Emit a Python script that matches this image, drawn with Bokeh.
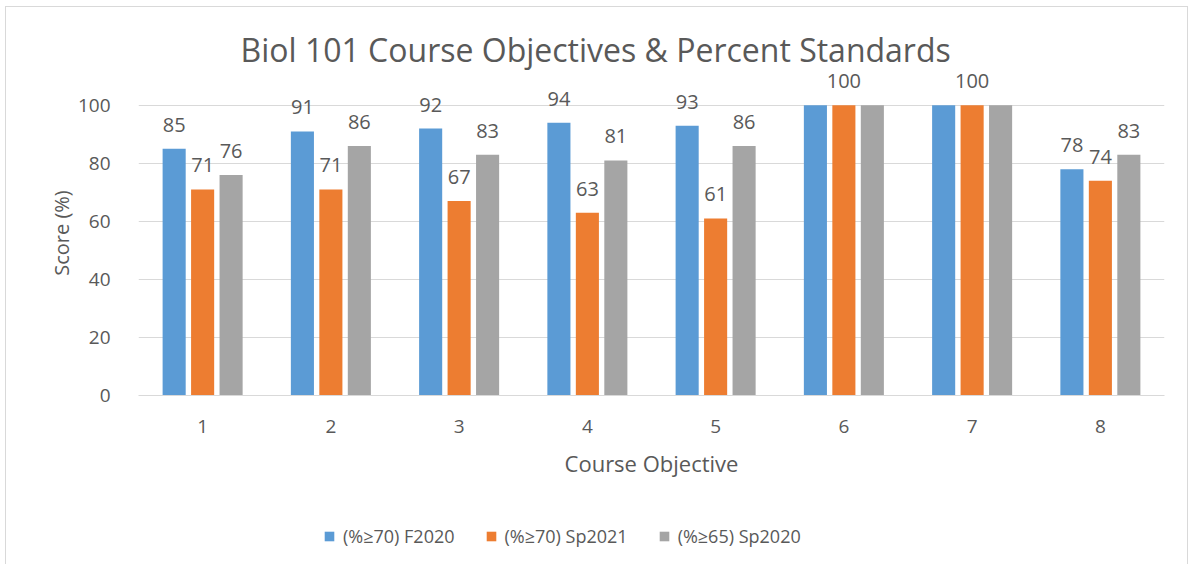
from bokeh.plotting import figure
from bokeh.layouts import column
from bokeh.models import ColumnDataSource, Range1d, FixedTicker, Legend, LegendItem
from bokeh.transform import dodge
from bokeh.embed import file_html
from bokeh.resources import INLINE

objectives = [1, 2, 3, 4, 5, 6, 7, 8]
f2020 = [85, 91, 92, 94, 93, 100, 100, 78]
sp2021 = [71, 71, 67, 63, 61, 100, 100, 74]
sp2020 = [76, 86, 83, 81, 86, 100, 100, 83]
series_names = ["(%≥70) F2020", "(%≥70) Sp2021", "(%≥65) Sp2020"]
colors = ["#5B9BD5", "#ED7D31", "#A5A5A5"]

FONT = "Open Sans"
TXT = "#595959"

p = figure(frame_width=1026, frame_height=325, output_backend="svg", toolbar_location=None,
           x_range=Range1d(0.5, 8.5), y_range=Range1d(0, 112),
           min_border_left=132, min_border_right=23, min_border_top=63, min_border_bottom=109)
p.outline_line_color = None

p.title.text = "Biol 101 Course Objectives & Percent Standards"
p.title.align = "left"
p.title.offset = 102
p.title.text_font = FONT
p.title.text_font_size = "32px"
p.title.text_font_style = "normal"
p.title.text_color = TXT
p.title.standoff = 0

src = ColumnDataSource(dict(
    x=objectives, f2020=f2020, sp2021=sp2021, sp2020=sp2020,
    l_f2020=["" if v == 100 else str(v) for v in f2020],
    l_sp2021=[str(v) for v in sp2021],
    l_sp2020=["" if v == 100 else str(v) for v in sp2020],
))

offsets = [-0.222, 0.0, 0.222]
keys = ["f2020", "sp2021", "sp2020"]
for k, off, c in zip(keys, offsets, colors):
    p.vbar(x=dodge("x", off), top=k, width=0.18, source=src, color=c, line_color=None)
    p.text(x=dodge("x", off), y=k, text="l_" + k, source=src, text_align="center",
           text_baseline="bottom", y_offset=-17, text_font_size="20px",
           text_font={"value": FONT}, text_color=TXT)

p.xgrid.grid_line_color = None
p.ygrid.grid_line_color = "#D9D9D9"
p.ygrid.grid_line_width = 1

p.yaxis.ticker = FixedTicker(ticks=[0, 20, 40, 60, 80, 100])
p.xaxis.ticker = FixedTicker(ticks=objectives)
for ax in (p.xaxis, p.yaxis):
    ax.major_tick_line_color = None
    ax.minor_tick_line_color = None
    ax.major_label_text_font = FONT
    ax.major_label_text_font_size = "19px"
    ax.major_label_text_color = TXT
    ax.axis_label_text_font = FONT
    ax.axis_label_text_font_style = "normal"
    ax.axis_label_text_color = TXT
p.xaxis.axis_label_text_font_size = "22px"
p.yaxis.axis_label_text_font_size = "20px"
p.yaxis.axis_line_color = None
p.xaxis.axis_line_color = "#D9D9D9"
p.yaxis.axis_label = "Score (%)"
p.xaxis.axis_label = "Course Objective"
p.yaxis.major_label_standoff = 22
p.yaxis.axis_label_standoff = 0
p.xaxis.major_label_standoff = 18
p.xaxis.axis_label_standoff = 12

# legend strip (bars lie outside its visible y-range; only legend swatches show)
lg = figure(width=1181, height=60, output_backend="svg", toolbar_location=None,
            min_border=0, x_range=Range1d(0.5, 8.5), y_range=Range1d(500, 600))
lg.outline_line_color = None
lg.axis.visible = False
lg.grid.visible = False
items = []
for k, off, c, name in zip(keys, offsets, colors, series_names):
    r = lg.vbar(x=dodge("x", off), top=k, width=0.18, source=src, color=c, line_color=None)
    items.append(LegendItem(label=name, renderers=[r]))
legend = Legend(items=items, orientation="horizontal", location=(185, 16),
                label_text_font=FONT, label_text_font_size="18px", label_text_color=TXT,
                glyph_width=12, glyph_height=12, label_standoff=8, spacing=30,
                border_line_color=None, background_fill_alpha=0, margin=0, padding=0)
lg.add_layout(legend, "center")

layout = column(p, lg, spacing=0)
layout.styles = {"border-left": "1px solid #D9D9D9", "border-top": "1px solid #D9D9D9",
                 "border-right": "1px solid #D9D9D9", "margin-left": "5px", "margin-top": "6px"}

open("out.html", "w").write(file_html(layout, INLINE))
